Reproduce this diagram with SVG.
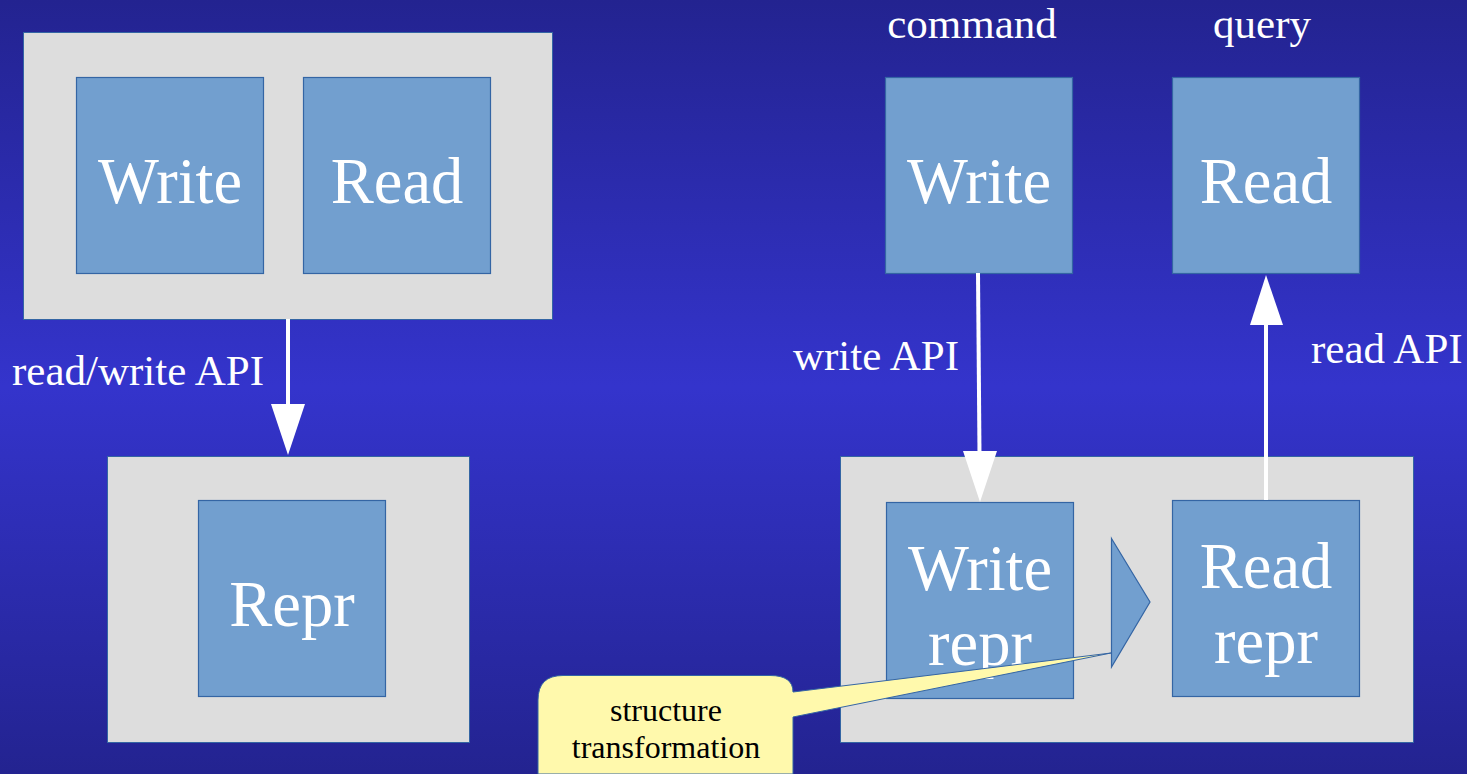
<svg xmlns="http://www.w3.org/2000/svg" width="1467" height="774" viewBox="0 0 1467 774">
<defs>
<linearGradient id="bg" x1="0" y1="0" x2="0" y2="1">
<stop offset="0" stop-color="#232390"/>
<stop offset="0.5" stop-color="#3434cc"/>
<stop offset="1" stop-color="#232390"/>
</linearGradient>
<style>
.outer{fill:#dddddd;stroke:#3465a4;stroke-width:1}
.box{fill:#729fcf;stroke:#3465a4;stroke-width:1.2}
.big{font-family:"Liberation Serif",serif;font-size:64.5px;fill:#ffffff;text-anchor:middle}
.lbl{font-family:"Liberation Serif",serif;font-size:43px;fill:#ffffff}
.call{font-family:"Liberation Serif",serif;font-size:32px;fill:#000000;text-anchor:middle}
.line{stroke:#ffffff;stroke-width:4;fill:none}
.head{fill:#ffffff}
</style>
</defs>
<rect x="0" y="0" width="1467" height="774" fill="url(#bg)"/>

<g id="left-app">
<rect class="outer" x="23.5" y="32.5" width="529" height="287"/>
</g>
<g id="left-write">
<rect class="box" x="76.5" y="77.5" width="187" height="196"/>
<text class="big" x="170" y="203">Write</text>
</g>
<g id="left-read">
<rect class="box" x="303.5" y="77.5" width="187" height="196"/>
<text class="big" x="397" y="203">Read</text>
</g>
<g id="left-store">
<rect class="outer" x="107.5" y="456.5" width="362" height="286"/>
</g>
<g id="left-repr">
<rect class="box" x="198.5" y="500.5" width="187" height="196"/>
<text class="big" x="292" y="626">Repr</text>
</g>

<g id="command-label"><text class="lbl" x="972" y="38" text-anchor="middle">command</text></g>
<g id="query-label"><text class="lbl" x="1262" y="38" text-anchor="middle">query</text></g>

<g id="right-write">
<rect class="box" x="885.5" y="77.5" width="187" height="196"/>
<text class="big" x="979" y="203">Write</text>
</g>
<g id="right-read">
<rect class="box" x="1172.5" y="77.5" width="187" height="196"/>
<text class="big" x="1266" y="203">Read</text>
</g>
<g id="right-store">
<rect class="outer" x="840.5" y="456.5" width="573" height="286"/>
</g>
<g id="write-repr">
<rect class="box" x="886.5" y="502.5" width="187" height="196"/>
<text class="big" x="980" y="590">Write</text>
<text class="big" x="980" y="665">repr</text>
</g>
<g id="read-repr">
<rect class="box" x="1172.5" y="500.5" width="187" height="196"/>
<text class="big" x="1266" y="588">Read</text>
<text class="big" x="1266" y="663">repr</text>
</g>
<g id="transform">
<polygon class="box" points="1111.5,538.5 1150,602 1111.5,667"/>
</g>

<g id="connectors">
<line class="line" x1="288" y1="319" x2="288" y2="408"/>
<polygon class="head" points="271,404 305,404 288,455"/>
<text class="lbl" x="12" y="385">read/write API</text>

<line class="line" x1="978" y1="273" x2="979.5" y2="454"/>
<polygon class="head" points="963,451 997,451 980,502"/>
<text class="lbl" x="793" y="370">write API</text>

<line class="line" x1="1266" y1="500" x2="1266" y2="320"/>
<polygon class="head" points="1250,325 1283,325 1266,275"/>
<text class="lbl" x="1311" y="363">read API</text>
</g>

<g id="callout">
<path d="M563,675.5 H770 Q793,675.5 793,692 L1111,653 L793,717 V774 H538 V700 Q538,675.5 563,675.5 Z" fill="#fff9ac" stroke="#3465a4" stroke-width="1"/>
<text class="call" x="666" y="721">structure</text>
<text class="call" x="666" y="758">transformation</text>
</g>
</svg>
